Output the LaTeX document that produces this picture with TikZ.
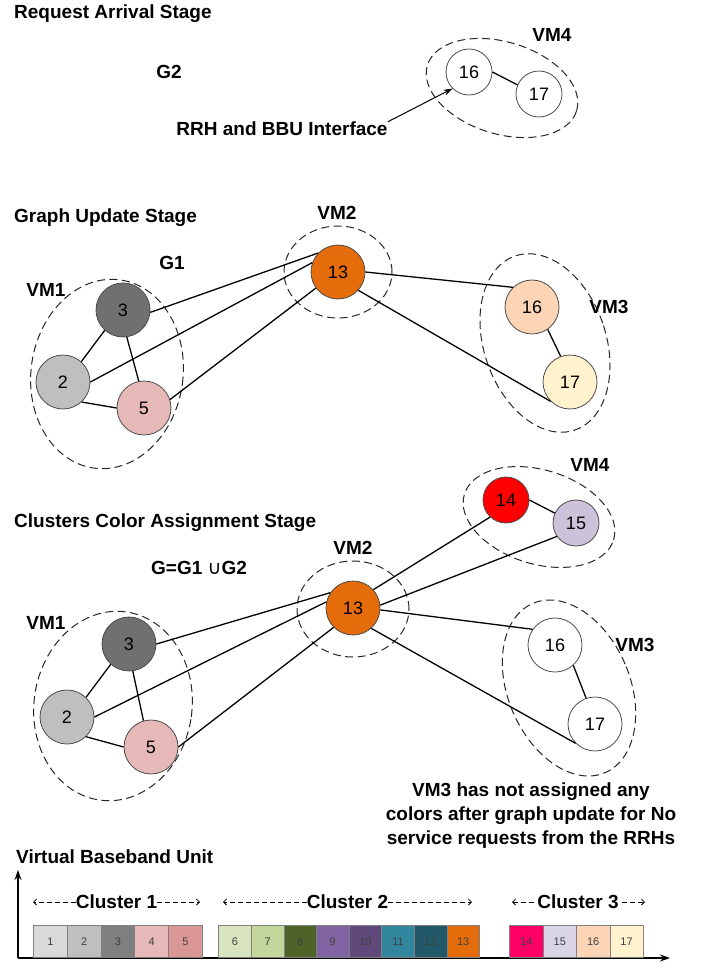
\documentclass[tikz,border=0pt]{standalone}
\usepackage{fontspec}
\setmainfont{Liberation Sans}
\newfontfamily\symfont{DejaVu Sans}
\usetikzlibrary{arrows.meta,shapes.geometric}

% vertex colours
\definecolor{cgA}{HTML}{D9D9D9}
\definecolor{cgB}{HTML}{BFBFBF}
\definecolor{cgC}{HTML}{7F7F7F}
\definecolor{cnC}{HTML}{707070}
\definecolor{cpA}{HTML}{E6B9B8}
\definecolor{cpB}{HTML}{D99694}
\definecolor{clA}{HTML}{D7E4BD}
\definecolor{clB}{HTML}{C3D69B}
\definecolor{clC}{HTML}{4F6228}
\definecolor{cvA}{HTML}{8064A2}
\definecolor{cvB}{HTML}{5F497A}
\definecolor{ctA}{HTML}{31859C}
\definecolor{ctB}{HTML}{215968}
\definecolor{cor}{HTML}{E46C0A}
\definecolor{cmag}{HTML}{FF0066}
\definecolor{clav}{HTML}{D9D5E6}
\definecolor{clavn}{HTML}{CCC3DB}
\definecolor{cpeach}{HTML}{FBD5B5}
\definecolor{ccream}{HTML}{FFF2CC}

\begin{document}
\begin{tikzpicture}[x=1pt,y=-1pt,
  lbl/.style={font=\fontsize{19}{23}\selectfont\bfseries, inner sep=0pt, text=black},
  vm/.style={ellipse, draw=black!85, dash pattern=on 8pt off 4.5pt, line width=1pt, inner sep=0pt},
  gnode/.style={circle, draw=black!70, line width=0.8pt, inner sep=0pt, font=\fontsize{18}{20}\selectfont},
  big/.style={gnode, minimum size=54pt},
  small/.style={gnode, minimum size=46pt},
  edge/.style={line width=1.3pt, black},
  vbox/.style={draw=black!50, line width=0.8pt, minimum height=32pt, inner sep=0pt, anchor=south west, font=\fontsize{11}{12}\selectfont, text=black!75},
  span/.style={dash pattern=on 5pt off 3pt, line width=0.8pt, -{Straight Barb[length=3pt,width=6pt]}},
  axis/.style={line width=1.3pt, -{Stealth[length=10pt,width=7pt]}}
]
\useasboundingbox (0,0) rectangle (701,969);

% ---------------- Request arrival stage ----------------
\node[lbl, anchor=west] (tA) at (14,14) {Request Arrival Stage};
\node[lbl] (gtwo) at (169,72) {G2};
\node[vm, minimum width=156pt, minimum height=92pt, rotate=-17] (vmA) at (502,88) {};
\node[lbl] (vmAl) at (552,35) {VM4};
\node[small, fill=white] (a16) at (469,72) {16};
\node[small, fill=white] (a17) at (539,94) {17};
\draw[edge] (a16.0) -- (a17.157);
\node[lbl] (rrh) at (282,129) {RRH and BBU Interface};
\draw[line width=1pt, -{Stealth[length=9pt,width=6pt]}] (rrh.north east) -- (a16.225);

% ---------------- Graph update stage ----------------
\node[lbl, anchor=west] (tB) at (14,218) {Graph Update Stage};
\node[lbl] (gone) at (172,263) {G1};
\node[vm, minimum width=108pt, minimum height=92pt] (vmB2) at (338,272) {};
\node[lbl] (vmB2l) at (337,213) {VM2};
\node[vm, minimum width=152pt, minimum height=190pt, rotate=-8] (vmB1) at (107,374) {};
\node[lbl] (vmB1l) at (46,290) {VM1};
\node[vm, minimum width=122pt, minimum height=184pt, rotate=19] (vmB3) at (545,343) {};
\node[lbl] (vmB3l) at (609,307) {VM3};

\node[big, fill=cnC] (m3) at (123,310) {3};
\node[big, fill=cgB] (m2) at (63,382) {2};
\node[big, fill=cpA] (m5) at (144,408) {5};
\node[big, fill=cor] (m13) at (338,272) {13};
\node[big, fill=cpeach] (m16) at (532,307) {16};
\node[big, fill=ccream] (m17) at (570,382) {17};

\draw[edge] (m3.228) -- (m2.48);
\draw[edge] (m3.278) -- (m5.101);
\draw[edge] (m2.313) -- (m5.180);
\draw[edge] (m3.355) -- (m13.136);
\draw[edge] (m2.0) -- (m13.160);
\draw[edge] (m5.18) -- (m13.216);
\draw[edge] (m13.0) -- (m16.134);
\draw[edge] (m13.318) -- (m17.225);
\draw[edge] (m16.305) -- (m17.110);

% ---------------- Clusters colour assignment stage ----------------
\node[lbl, anchor=west] (tC) at (14,523) {Clusters Color Assignment Stage};
\node[lbl] (gunion) at (199,568) {G=G1 {\symfont\mdseries\fontsize{19}{21}\selectfont ∪}G2};
\node[vm, minimum width=112pt, minimum height=96pt] (vmC2) at (353,609) {};
\node[lbl] (vmC2l) at (353,548) {VM2};
\node[vm, minimum width=156pt, minimum height=94pt, rotate=-17] (vmC4) at (539,517) {};
\node[lbl] (vmC4l) at (590,465) {VM4};
\node[vm, minimum width=158pt, minimum height=190pt, rotate=-8] (vmC1) at (113,706) {};
\node[lbl] (vmC1l) at (46,623) {VM1};
\node[vm, minimum width=122pt, minimum height=184pt, rotate=23] (vmC3) at (569,688) {};
\node[lbl] (vmC3l) at (635,645) {VM3};

\node[big, fill=cnC] (n3) at (129,644) {3};
\node[big, fill=cgB] (n2) at (67,717) {2};
\node[big, fill=cpA] (n5) at (151,747) {5};
\node[big, fill=cor] (n13) at (353,608) {13};
\node[small, fill=red] (n14) at (506,500) {14};
\node[small, fill=clavn] (n15) at (576,523) {15};
\node[big, fill=white] (n16) at (555,645) {16};
\node[big, fill=white] (n17) at (595,724) {17};

\draw[edge] (n3.228) -- (n2.46);
\draw[edge] (n3.278) -- (n5.106);
\draw[edge] (n2.314) -- (n5.180);
\draw[edge] (n3.0) -- (n13.146);
\draw[edge] (n2.0) -- (n13.167);
\draw[edge] (n5.0) -- (n13.225);
\draw[edge] (n13.42) -- (n14.227);
\draw[edge] (n13.6) -- (n15.215);
\draw[edge] (n13.356) -- (n16.145);
\draw[edge] (n13.312) -- (n17.225);
\draw[edge] (n14.0) -- (n15.155);
\draw[edge] (n16.312) -- (n17.109);

\node[lbl, align=center, font=\fontsize{19}{24}\selectfont\bfseries] (note) at (531,816)
  {VM3 has not assigned any\\colors after graph update for No\\service requests from the RRHs};

% ---------------- Virtual baseband unit ----------------
\node[lbl, anchor=west] (tD) at (16,857) {Virtual Baseband Unit};
\coordinate (org) at (18,958);
\coordinate (ytip) at (18,870);
\coordinate (xtip) at (670,958);
\draw[axis] (org) -- (ytip);
\draw[axis] (org) -- (xtip);

% cluster 1
\foreach \k/\c [count=\i from 0] in {1/cgA,2/cgB,3/cgC,4/cpA,5/cpB}
  \node[vbox, fill=\c, minimum width=33.7pt] (b\k) at ({33.3+33.7*\i},958) {\k};
% cluster 2
\foreach \k/\c [count=\i from 0] in {6/clA,7/clB,8/clC,9/cvA,10/cvB,11/ctA,12/ctB,13/cor}
  \node[vbox, fill=\c, minimum width=32.6pt] (b\k) at ({218.3+32.6*\i},958) {\k};
% cluster 3
\foreach \k/\c [count=\i from 0] in {14/cmag,15/clav,16/cpeach,17/ccream}
  \node[vbox, fill=\c, minimum width=33.4pt] (b\k) at ({509.3+33.4*\i},958) {\k};

\node[lbl] (cl1) at (116.5,902) {Cluster 1};
\coordinate (cl1l) at (33,902);
\coordinate (cl1r) at (200,902);
\draw[span] (cl1.west) -- (cl1l);
\draw[span] (cl1.east) -- (cl1r);

\node[lbl] (cl2) at (347.5,902) {Cluster 2};
\coordinate (cl2l) at (223,902);
\coordinate (cl2r) at (472,902);
\draw[span] (cl2.west) -- (cl2l);
\draw[span] (cl2.east) -- (cl2r);

\node[lbl] (cl3) at (578,902) {Cluster 3};
\coordinate (cl3l) at (512,902);
\coordinate (cl3r) at (645,902);
\draw[span] ([xshift=-3pt]cl3.west) -- (cl3l);
\draw[span] ([xshift=3pt]cl3.east) -- (cl3r);
\end{tikzpicture}
\end{document}
